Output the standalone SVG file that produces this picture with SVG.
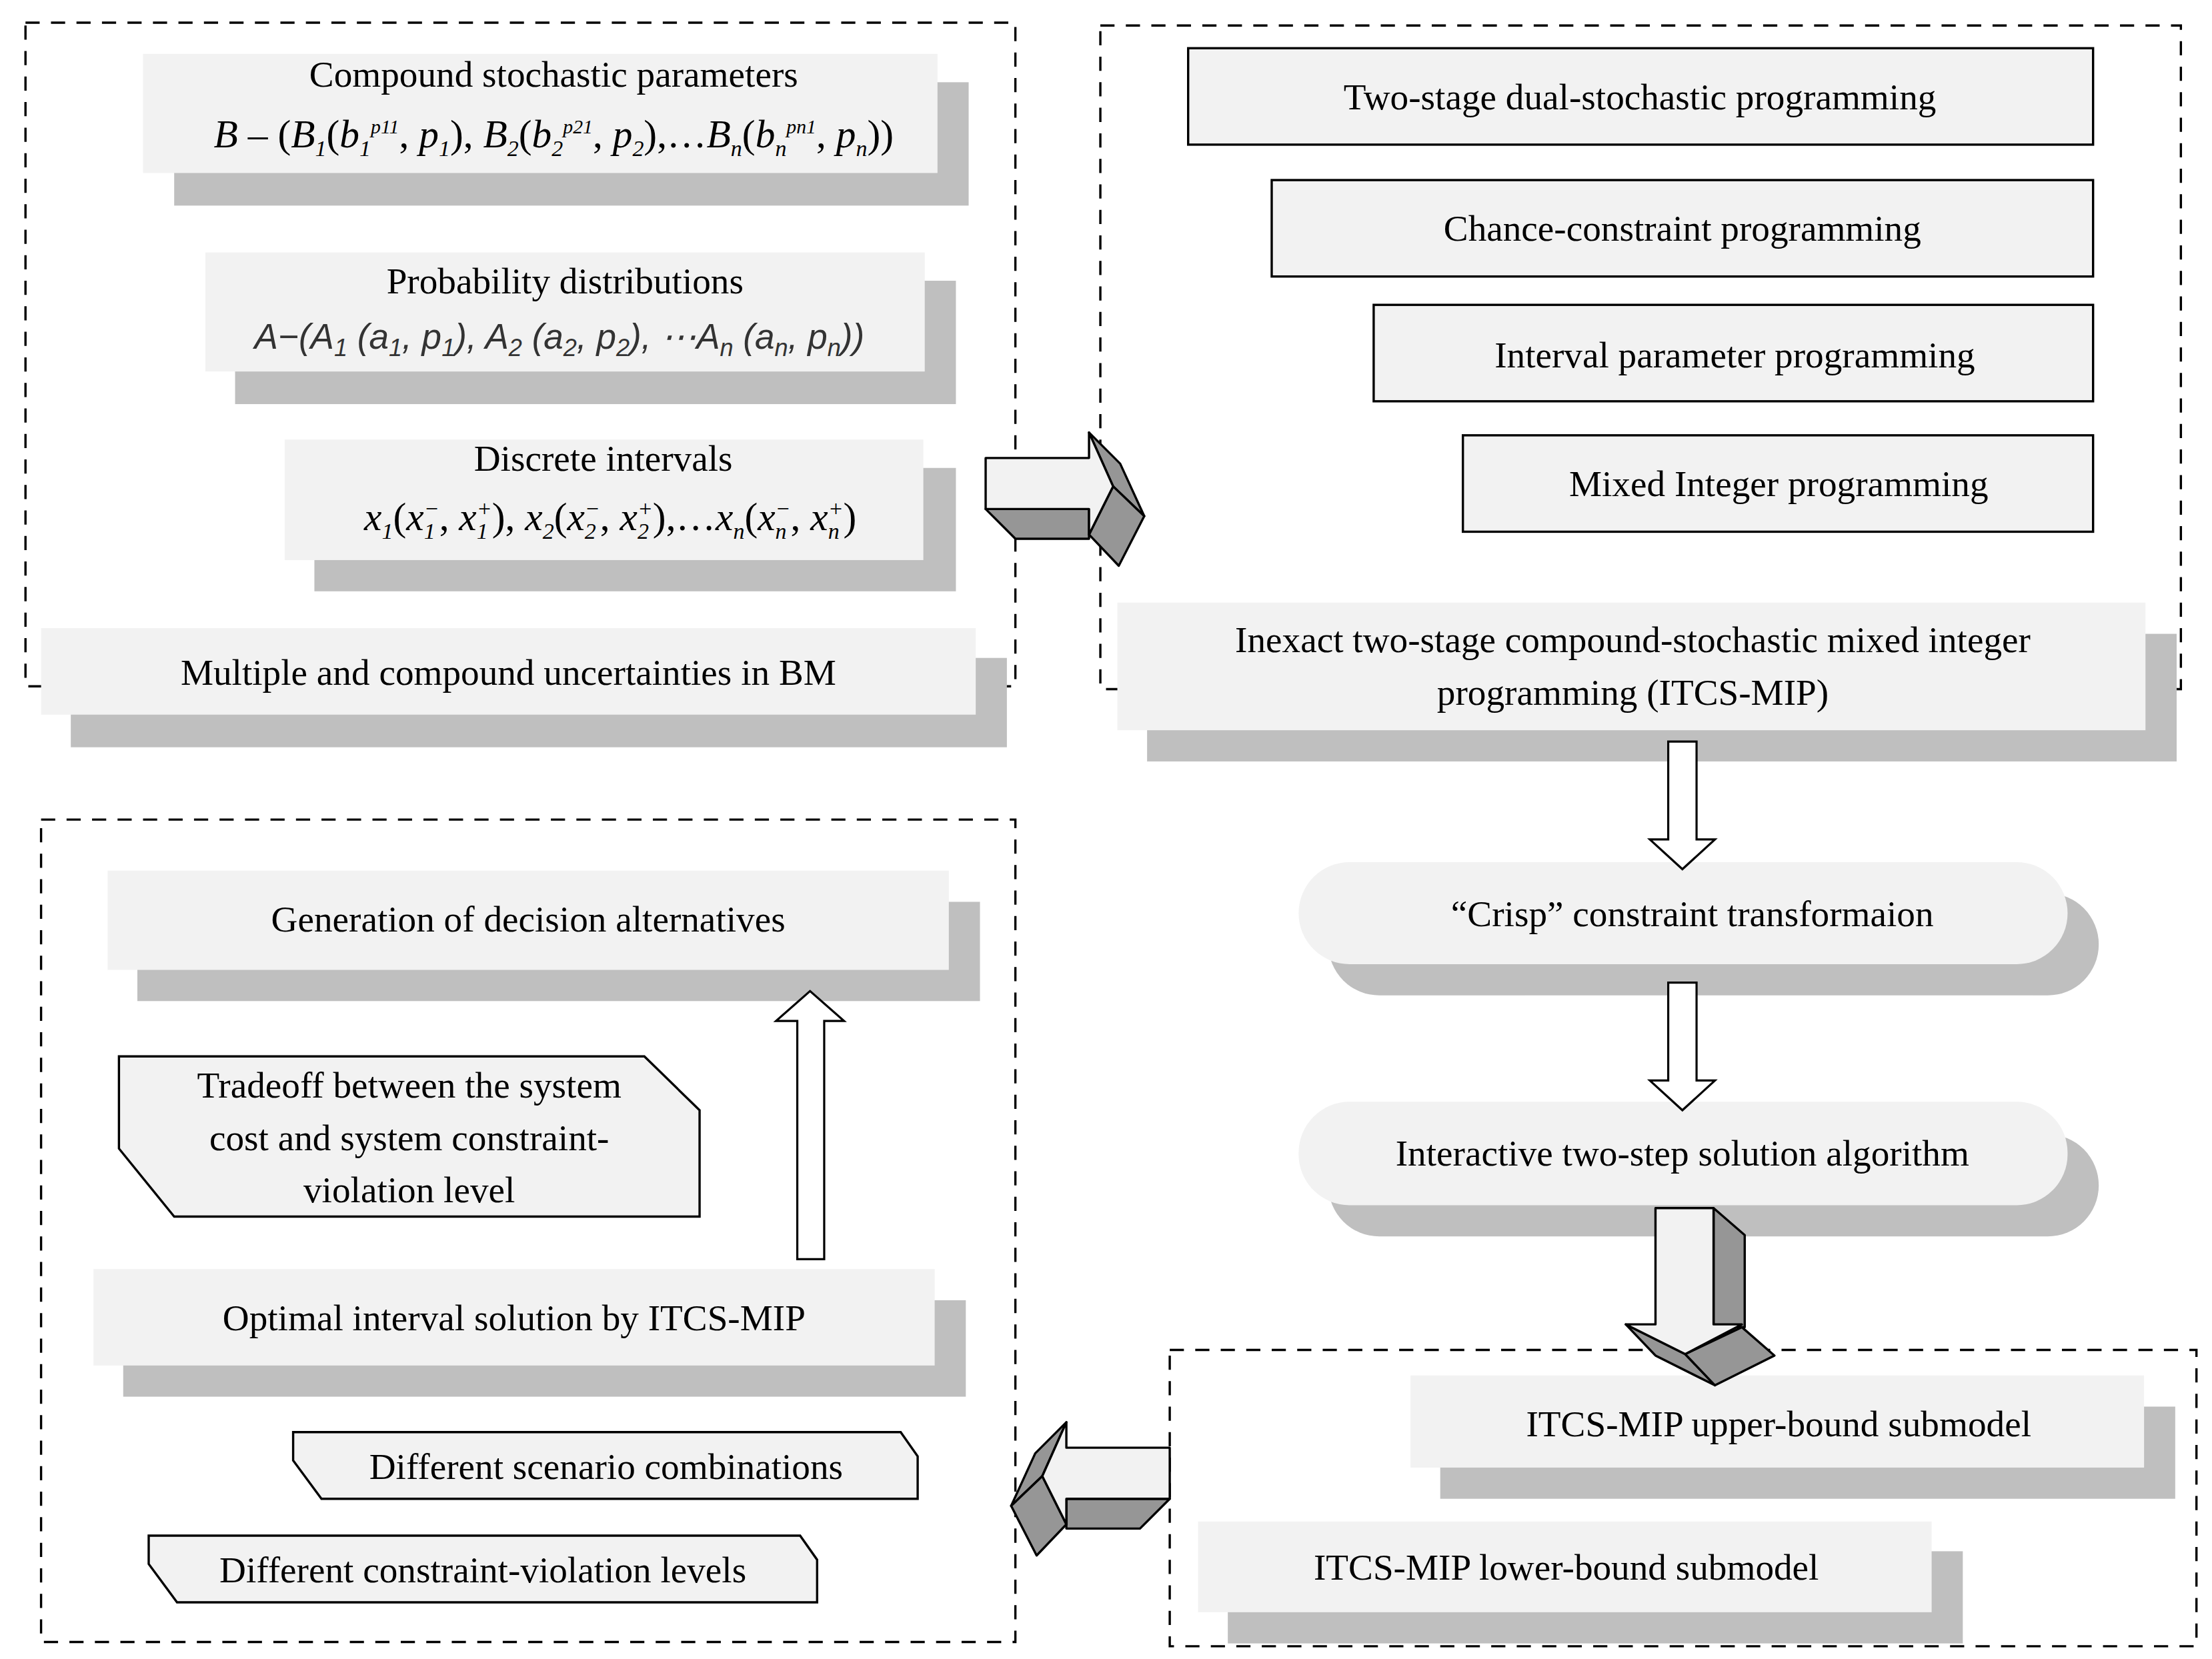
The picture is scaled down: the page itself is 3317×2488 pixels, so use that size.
<svg xmlns="http://www.w3.org/2000/svg" width="3317" height="2488" viewBox="0 0 3317 2488">
<style>
.t{font-family:"Liberation Serif","Times New Roman",serif;font-size:26px;fill:#000;text-anchor:middle}
.f{font-family:"Liberation Serif","Times New Roman",serif;font-size:28px;font-style:italic;fill:#000;text-anchor:middle}
.g{font-family:"Liberation Sans",Arial,sans-serif;font-size:25px;font-style:italic;fill:#333;text-anchor:middle}
.sh{fill:#bfbfbf}
.lt{fill:#f2f2f2}
.bx{fill:#f2f2f2;stroke:#000;stroke-width:1.6}
.dash{fill:none;stroke:#000;stroke-width:1.6;stroke-dasharray:10 8}
.ha{fill:#fff;stroke:#000;stroke-width:1.5}
.a3f{fill:#f2f2f2;stroke:#000;stroke-width:1.6;stroke-linejoin:round}
.a3d{fill:#969696;stroke:#000;stroke-width:1.6;stroke-linejoin:round}
</style>
<rect width="3317" height="2488" fill="#fff"/>
<g transform="scale(2.1236 2.1265)">
<g id="groups">
<rect class="dash" x="18" y="16" width="699" height="468"/>
<rect class="dash" x="777" y="18" width="763" height="468"/>
<rect class="dash" x="29" y="578" width="688" height="580"/>
<rect class="dash" x="826" y="952" width="725" height="209"/>
</g>
<g id="n1"><rect class="sh" x="123" y="58" width="561" height="87"/><rect class="lt" x="101" y="38" width="561" height="84"/>
<text class="t" x="391" y="61">Compound stochastic parameters</text>
<text class="f" x="391" y="104">B<tspan font-style="normal"> – (</tspan>B<tspan font-size="16" dy="6">1</tspan><tspan dy="-6" font-style="normal">(</tspan>b<tspan font-size="16" dy="6">1</tspan><tspan font-size="14" dy="-16">p11</tspan><tspan dy="10" font-style="normal">, </tspan>p<tspan font-size="16" dy="6">1</tspan><tspan dy="-6" font-style="normal">), </tspan>B<tspan font-size="16" dy="6">2</tspan><tspan dy="-6" font-style="normal">(</tspan>b<tspan font-size="16" dy="6">2</tspan><tspan font-size="14" dy="-16">p21</tspan><tspan dy="10" font-style="normal">, </tspan>p<tspan font-size="16" dy="6">2</tspan><tspan dy="-6" font-style="normal">),…</tspan>B<tspan font-size="16" dy="6">n</tspan><tspan dy="-6" font-style="normal">(</tspan>b<tspan font-size="16" dy="6">n</tspan><tspan font-size="14" dy="-16">pn1</tspan><tspan dy="10" font-style="normal">, </tspan>p<tspan font-size="16" dy="6">n</tspan><tspan dy="-6" font-style="normal">))</tspan></text></g>
<g id="n2"><rect class="sh" x="166" y="198" width="509" height="87"/><rect class="lt" x="145" y="178" width="508" height="84"/>
<text class="t" x="399" y="207">Probability distributions</text>
<text class="g" x="395" y="246">A−(A<tspan font-size="17" dy="5">1</tspan><tspan dy="-5"> (a</tspan><tspan font-size="17" dy="5">1</tspan><tspan dy="-5">, p</tspan><tspan font-size="17" dy="5">1</tspan><tspan dy="-5">), A</tspan><tspan font-size="17" dy="5">2</tspan><tspan dy="-5"> (a</tspan><tspan font-size="17" dy="5">2</tspan><tspan dy="-5">, p</tspan><tspan font-size="17" dy="5">2</tspan><tspan dy="-5">), ⋯A</tspan><tspan font-size="17" dy="5">n</tspan><tspan dy="-5"> (a</tspan><tspan font-size="17" dy="5">n</tspan><tspan dy="-5">, p</tspan><tspan font-size="17" dy="5">n</tspan><tspan dy="-5">))</tspan></text></g>
<g id="n3"><rect class="sh" x="222" y="330" width="453" height="87"/><rect class="lt" x="201" y="310" width="451" height="85"/>
<text class="t" x="426" y="332">Discrete intervals</text>
<text class="f" x="431" y="374">x<tspan font-size="16" dy="6">1</tspan><tspan dy="-6" font-style="normal">(</tspan>x<tspan font-size="16" dy="6">1</tspan><tspan font-size="16" dy="-16" dx="-8">−</tspan><tspan dy="10" font-style="normal">, </tspan>x<tspan font-size="16" dy="6">1</tspan><tspan font-size="16" dy="-16" dx="-8">+</tspan><tspan dy="10" font-style="normal">), </tspan>x<tspan font-size="16" dy="6">2</tspan><tspan dy="-6" font-style="normal">(</tspan>x<tspan font-size="16" dy="6">2</tspan><tspan font-size="16" dy="-16" dx="-8">−</tspan><tspan dy="10" font-style="normal">, </tspan>x<tspan font-size="16" dy="6">2</tspan><tspan font-size="16" dy="-16" dx="-8">+</tspan><tspan dy="10" font-style="normal">),…</tspan>x<tspan font-size="16" dy="6">n</tspan><tspan dy="-6" font-style="normal">(</tspan>x<tspan font-size="16" dy="6">n</tspan><tspan font-size="16" dy="-16" dx="-8">−</tspan><tspan dy="10" font-style="normal">, </tspan>x<tspan font-size="16" dy="6">n</tspan><tspan font-size="16" dy="-16" dx="-8">+</tspan><tspan dy="10" font-style="normal">)</tspan></text></g>
<g id="n4"><rect class="sh" x="50" y="464" width="661" height="63"/><rect class="lt" x="29" y="443" width="660" height="61"/>
<text class="t" x="359" y="483">Multiple and compound uncertainties in BM</text></g>
<g id="r1"><rect class="bx" x="839" y="34" width="639" height="68"/><text class="t" x="1158" y="77">Two-stage dual-stochastic programming</text></g>
<g id="r2"><rect class="bx" x="898" y="127" width="580" height="68"/><text class="t" x="1188" y="170">Chance-constraint programming</text></g>
<g id="r3"><rect class="bx" x="970" y="215" width="508" height="68"/><text class="t" x="1225" y="259">Interval parameter programming</text></g>
<g id="r4"><rect class="bx" x="1033" y="307" width="445" height="68"/><text class="t" x="1256" y="350">Mixed Integer programming</text></g>
<g id="r5"><rect class="sh" x="810" y="447" width="727" height="90"/><rect class="lt" x="789" y="425" width="726" height="90"/>
<text class="t" x="1153" y="460">Inexact two-stage compound-stochastic mixed integer</text>
<text class="t" x="1153" y="497">programming (ITCS-MIP)</text></g>
<g id="c1"><rect class="sh" x="938" y="630" width="544" height="72" rx="36"/><rect class="lt" x="917" y="608" width="543" height="72" rx="36"/>
<text class="t" x="1195" y="653">“Crisp” constraint transformaion</text></g>
<g id="c2"><rect class="sh" x="938" y="800" width="544" height="72" rx="36"/><rect class="lt" x="917" y="777" width="543" height="73" rx="36"/>
<text class="t" x="1188" y="822">Interactive two-step solution algorithm</text></g>
<g id="b1"><rect class="sh" x="1017" y="992" width="519" height="65"/><rect class="lt" x="996" y="970" width="518" height="65"/>
<text class="t" x="1256" y="1013">ITCS-MIP upper-bound submodel</text></g>
<g id="b2"><rect class="sh" x="867" y="1094" width="519" height="65"/><rect class="lt" x="846" y="1073" width="518" height="64"/>
<text class="t" x="1106" y="1114">ITCS-MIP lower-bound submodel</text></g>
<g id="l1"><rect class="sh" x="97" y="636" width="595" height="70"/><rect class="lt" x="76" y="614" width="594" height="70"/>
<text class="t" x="373" y="657">Generation of decision alternatives</text></g>
<g id="l2"><polygon class="bx" points="84,745 455,745 494,783 494,858 123,858 84,810"/>
<text class="t" x="289" y="774">Tradeoff between the system</text>
<text class="t" x="289" y="811">cost and system constraint-</text>
<text class="t" x="289" y="848">violation level</text></g>
<g id="l3"><rect class="sh" x="87" y="917" width="595" height="68"/><rect class="lt" x="66" y="895" width="594" height="68"/>
<text class="t" x="363" y="938">Optimal interval solution by ITCS-MIP</text></g>
<g id="l4"><polygon class="bx" points="207,1010 636,1010 648,1027 648,1057 227,1057 207,1030"/>
<text class="t" x="428" y="1043">Different scenario combinations</text></g>
<g id="l5"><polygon class="bx" points="105,1083 565,1083 577,1100 577,1130 125,1130 105,1103"/>
<text class="t" x="341" y="1116">Different constraint-violation levels</text></g>
<g id="connectors">
<polygon class="ha" points="1178,523 1198,523 1198,592 1211,592 1188,613 1165,592 1178,592"/>
<polygon class="ha" points="1178,693 1198,693 1198,762 1211,762 1188,783 1165,762 1178,762"/>
<polygon class="ha" points="563,888 582,888 582,720 596,720 572,699 548,720 563,720"/>
<g id="arrowR">
<polygon class="a3d" points="696,359 717,380 769,380 769,359"/>
<polygon class="a3d" points="769,305 791,327 808,364 786,343"/>
<polygon class="a3d" points="769,377 786,343 808,364 790,399"/>
<polygon class="a3f" points="696,323 769,323 769,305 786,343 769,377 769,359 696,359"/>
</g>
<g id="arrowL" transform="translate(1522 698) scale(-1 1)">
<polygon class="a3d" points="696,359 717,380 769,380 769,359"/>
<polygon class="a3d" points="769,305 791,327 808,364 786,343"/>
<polygon class="a3d" points="769,377 786,343 808,364 790,399"/>
<polygon class="a3f" points="696,323 769,323 769,305 786,343 769,377 769,359 696,359"/>
</g>
<g id="arrowD">
<polygon class="a3d" points="1210,852 1232,871 1232,936 1210,936"/>
<polygon class="a3d" points="1148,934 1169,956 1211,977 1190,955"/>
<polygon class="a3d" points="1190,955 1230,936 1253,956 1211,977"/>
<polygon class="a3f" points="1169,852 1210,852 1210,934 1230,934 1190,955 1148,934 1169,934"/>
</g>
</g>
</g>
</svg>
